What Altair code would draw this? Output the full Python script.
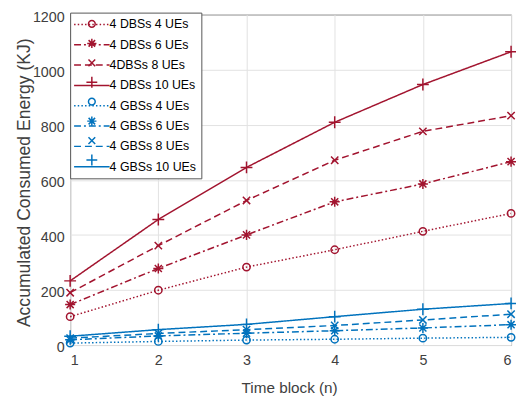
import altair as alt
import pandas as pd

time_blocks = [1, 2, 3, 4, 5, 6]
series_names = ["4 DBSs 4 UEs", "4 DBSs 6 UEs", "4DBSs 8 UEs", "4 DBSs 10 UEs",
                "4 GBSs 4 UEs", "4 GBSs 6 UEs", "4 GBSs 8 UEs", "4 GBSs 10 UEs"]
dbs_4 = [103, 199, 283, 346, 413, 478]
dbs_6 = [147, 278, 400, 520, 585, 666]
dbs_8 = [190, 361, 525, 671, 776, 833]
dbs_10 = [233, 456, 645, 809, 946, 1065]
gbs_4 = [7, 13, 18, 21, 25, 28]
gbs_6 = [19, 33, 43, 52, 62, 74]
gbs_8 = [25, 42, 56, 71, 91, 112]
gbs_10 = [32, 56, 75, 103, 130, 151]
all_values = [dbs_4, dbs_6, dbs_8, dbs_10, gbs_4, gbs_6, gbs_8, gbs_10]

series_colors = ["#A2142F"] * 4 + ["#0072BD"] * 4
series_dashes = [[1.5, 2.2], [7, 3, 2, 3], [7, 4], [1, 0]] * 2
circle_path = "M0.62,0A0.62,0.62 0 1,1 -0.62,0A0.62,0.62 0 1,1 0.62,0Z"
star_path = "M0,-0.85L0,0.85M-0.85,0L0.85,0M-0.6,-0.6L0.6,0.6M-0.6,0.6L0.6,-0.6"
x_path = "M-0.62,-0.62L0.62,0.62M-0.62,0.62L0.62,-0.62"
plus_path = "M0,-1L0,1M-1,0L1,0"
series_shapes = [circle_path, star_path, x_path, plus_path] * 2
legend_line_path = "M-3,0L3,0"

rows = []
for name, vals in zip(series_names, all_values):
    for t, v in zip(time_blocks, vals):
        rows.append({"series": name, "t": t, "energy": v})
df = pd.DataFrame(rows)

FONT = "Liberation Sans"

x_enc = alt.X("t:Q", scale=alt.Scale(domain=[1, 6], nice=False),
              axis=alt.Axis(values=time_blocks, format="d", title="Time block (n)",
                            titleX=222, titleY=48, titleBaseline="alphabetic",
                            titleAnchor="start", titleAlign="center",
                            labelPadding=9, titleFontSize=15.5))
y_enc = alt.Y("energy:Q", scale=alt.Scale(domain=[0, 1200], nice=False),
              axis=alt.Axis(values=[0, 200, 400, 600, 800, 1000, 1200], format="d",
                            title="Accumulated Consumed Energy (KJ)",
                            titleX=-46, titleY=170, titleAngle=270,
                            titleAlign="center", titleBaseline="middle",
                            labelPadding=6, labelOffset=3, titleFontSize=17.8))

line_legend = alt.Legend(orient="none", legendX=0, legendY=-2, title=None,
                         symbolType=legend_line_path, symbolSize=144, symbolStrokeWidth=1.5,
                         symbolOffset=10,
                         labelFont=FONT, labelFontSize=12.5, labelColor="#000000",
                         labelOffset=11, padding=5, rowPadding=6.6,
                         fillColor="white", strokeColor="#555555", zindex=1)
point_legend = alt.Legend(orient="none", legendX=0, legendY=-2, title=None,
                          symbolSize=121, symbolStrokeWidth=1.5, symbolOffset=10.5,
                          symbolFillColor="transparent", labelExpr="''",
                          labelFont=FONT, labelFontSize=12.5, labelOpacity=0,
                          labelOffset=11, padding=5, rowPadding=4.7, zindex=2)

lines = alt.Chart(df).mark_line(strokeWidth=1.5).encode(
    x=x_enc, y=y_enc,
    color=alt.Color("series:N", scale=alt.Scale(domain=series_names, range=series_colors),
                    legend=line_legend),
    strokeDash=alt.StrokeDash("series:N", scale=alt.Scale(domain=series_names, range=series_dashes),
                              legend=line_legend),
)
points = alt.Chart(df).mark_point(filled=False, size=144, strokeWidth=1.5, opacity=1).encode(
    x=x_enc, y=y_enc,
    color=alt.Color("series:N", scale=alt.Scale(domain=series_names, range=series_colors),
                    legend=point_legend),
    shape=alt.Shape("series:N", scale=alt.Scale(domain=series_names, range=series_shapes),
                    legend=point_legend),
)

chart = alt.layer(lines, points).resolve_scale(
    color="independent", strokeDash="independent", shape="independent"
).properties(
    width=447, height=335,
    autosize=alt.AutoSizeParams(type="none"),
    padding={"left": 63, "top": 4, "right": 5, "bottom": 50},
    background="white",
).configure_view(
    stroke="#555555", strokeWidth=1
).configure_axis(
    gridColor="#e2e2e2", gridWidth=1, domain=False, ticks=False,
    labelFont=FONT, labelFontSize=14.5, labelColor="#404040",
    titleFont=FONT, titleColor="#404040", titleFontWeight="normal",
)

chart.save("out.html", embed_options={"renderer": "svg", "actions": False})
